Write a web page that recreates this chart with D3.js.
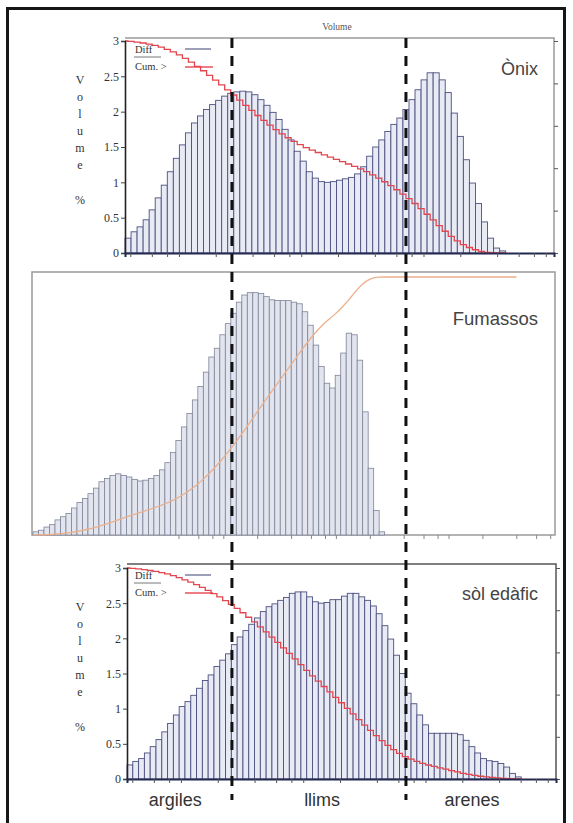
<!DOCTYPE html>
<html>
<head>
<meta charset="utf-8">
<script src="https://cdn.jsdelivr.net/npm/d3@7"></script>
<style>
  body { margin: 0; background: #fff; }
  svg { display: block; }
</style>
</head>
<body>
<svg id="fig" width="573" height="823"></svg>
<script>
// --- data (volume %, one value per size class) ---
const onixDiff = [
  0.21, 0.30, 0.37, 0.47, 0.61, 0.78, 0.96, 1.15, 1.34, 1.53,
  1.70, 1.84, 1.94, 2.03, 2.10, 2.16, 2.22, 2.26, 2.28, 2.29,
  2.28, 2.24, 2.17, 2.09, 1.99, 1.89, 1.75, 1.60, 1.44, 1.30,
  1.15, 1.06, 1.01, 1.00, 1.01, 1.03, 1.05, 1.07, 1.12, 1.22,
  1.37, 1.50, 1.60, 1.72, 1.82, 1.91, 2.03, 2.17, 2.31, 2.45,
  2.55, 2.55, 2.45, 2.27, 1.98, 1.65, 1.32, 0.99, 0.70, 0.44,
  0.21, 0.07, 0.03
];
const fumassosDiff = [
  0.04, 0.06, 0.10, 0.13, 0.19, 0.23, 0.27, 0.34, 0.41, 0.46,
  0.52, 0.59, 0.67, 0.71, 0.75, 0.77, 0.75, 0.73, 0.70, 0.68,
  0.69, 0.71, 0.75, 0.82, 0.91, 1.04, 1.19, 1.36, 1.53, 1.70,
  1.87, 2.05, 2.24, 2.35, 2.52, 2.66, 2.79, 2.93, 3.02, 3.05,
  3.05, 3.04, 3.00, 2.96, 2.95, 2.95, 2.95, 2.93, 2.91, 2.81,
  2.64, 2.39, 2.12, 1.91, 1.85, 2.01, 2.29, 2.54, 2.52, 2.20,
  1.55, 0.84, 0.31, 0.04, 0, 0, 0, 0, 0, 0,
  0, 0, 0, 0, 0, 0, 0, 0, 0, 0,
  0, 0, 0, 0, 0, 0, 0, 0
];
const solDiff = [
  0.20, 0.25, 0.29, 0.37, 0.46, 0.56, 0.67, 0.79, 0.91, 1.03,
  1.10, 1.19, 1.29, 1.40, 1.48, 1.60, 1.69, 1.78, 1.91, 2.02,
  2.11, 2.20, 2.29, 2.38, 2.45, 2.49, 2.54, 2.58, 2.64, 2.66,
  2.66, 2.59, 2.52, 2.50, 2.51, 2.55, 2.55, 2.60, 2.64, 2.64,
  2.59, 2.54, 2.46, 2.35, 2.18, 1.99, 1.76, 1.50, 1.22, 1.07,
  0.91, 0.77, 0.65, 0.65, 0.65, 0.65, 0.65, 0.63, 0.55, 0.46,
  0.37, 0.29, 0.26, 0.25, 0.22, 0.17, 0.08, 0.03
];

const volumeTicks = [0, 0.5, 1, 1.5, 2, 2.5, 3];
const cumTicks = [0, 20, 40, 60, 80, 100];
const sizeTicks = [0.4, 0.6, 0.8, 1, 2, 4, 6, 8, 10, 20, 40, 60, 80, 100, 200, 400, 600, 800, 1000];
const fractionLimits = [2.7, 71];           // µm, dashed boundaries
const fractionNames = ["argiles", "llims", "arenes"];
const fractionCentres = [0.93, 14.7, 246];   // µm, where the names sit
const yLetters = ["V", "o", "l", "u", "m", "e"];
const legendLabels = ["Diff", "Cum. >"];

const serif = "'Liberation Serif', 'DejaVu Serif', serif";
const sans = "'Liberation Sans', Arial, sans-serif";

const svg = d3.select("#fig");

svg.append("rect")
  .attr("x", 7.5).attr("y", 8.5)
  .attr("width", 557).attr("height", 840)
  .attr("fill", "none")
  .attr("stroke", "#161616")
  .attr("stroke-width", 3);

// size axis shared by the two instrument panels (log µm)
const sizeX = d3.scaleLog().domain([0.362, 1168]).range([125, 555]);

function cumulative(data, greater) {
  const total = d3.sum(data);
  const cs = Array.from(d3.cumsum(data));
  const pts = [[0, greater ? 100 : 0]];
  cs.forEach((c, i) => pts.push([i + 1, greater ? 100 * (1 - c / total) : 100 * c / total]));
  return pts;
}

function volumePanel(cfg) {
  const g = svg.append("g");
  const x = d3.scaleLinear().domain([0, cfg.nBins]).range([cfg.left, cfg.right]);
  const y = d3.scaleLinear().domain([0, 3]).range([cfg.bottom, cfg.y3]);
  const yc = d3.scaleLinear().domain([0, 100]).range([cfg.bottom, cfg.y3]);
  const sx = sizeX.copy().range([cfg.left, cfg.right]);

  // frame top / right
  g.append("path")
    .attr("d", `M${cfg.left},${cfg.top}H${cfg.right}V${cfg.bottom}`)
    .attr("fill", "none").attr("stroke", cfg.frame).attr("stroke-width", 1.5);

  g.append("g").selectAll("rect")
    .data(cfg.data)
    .join("rect")
    .attr("x", (d, i) => x(i))
    .attr("width", x(1) - x(0))
    .attr("y", d => y(d))
    .attr("height", d => y(0) - y(d))
    .attr("fill", "#e8eaf4")
    .attr("stroke", "#4b5080")
    .attr("stroke-width", 0.9);

  const line = d3.line()
    .x(d => x(d[0])).y(d => yc(d[1]))
    .curve(d3.curveStep);
  g.append("path")
    .attr("d", line(cumulative(cfg.data, true)))
    .attr("fill", "none").attr("stroke", "#e4464f").attr("stroke-width", 1.3);

  // axes
  const yAxis = g.append("g")
    .attr("transform", `translate(${cfg.left},0)`)
    .call(d3.axisLeft(y).tickValues(volumeTicks).tickSize(4).tickPadding(2).tickFormat(d => String(d)));
  yAxis.select(".domain").attr("stroke", "#222").attr("stroke-width", 1.6);
  yAxis.selectAll("text").attr("font-family", serif).attr("font-size", 12).attr("fill", "#333");
  yAxis.selectAll(".tick line").attr("stroke", "#444");

  const rAxis = g.append("g")
    .attr("transform", `translate(${cfg.right},0)`)
    .call(d3.axisRight(yc).tickValues(cumTicks).tickSize(4).tickFormat(""));
  rAxis.select(".domain").remove();
  rAxis.selectAll(".tick line").attr("stroke", "#555");

  const xAxis = g.append("g")
    .attr("transform", `translate(0,${cfg.bottom})`)
    .call(d3.axisBottom(sx).tickValues(sizeTicks).tickSize(4).tickFormat(""));
  xAxis.select(".domain").attr("stroke", "#23284f").attr("stroke-width", 2);
  xAxis.selectAll(".tick line").attr("stroke", "#555");

  // stacked y label
  const lab = g.append("g").attr("font-family", serif).attr("font-size", 12)
    .attr("fill", "#333").attr("text-anchor", "middle");
  lab.selectAll("text.l")
    .data(yLetters)
    .join("text")
    .attr("x", 80)
    .attr("y", (d, i) => cfg.y3 + 43 + i * 17)
    .text(d => d);
  lab.append("text").attr("x", 80).attr("y", cfg.y3 + 163).text("%");

  // legend
  const leg = g.append("g").attr("font-family", serif).attr("font-size", 10.5).attr("fill", "#333");
  leg.append("text").attr("x", 135).attr("y", cfg.top + 15).text(legendLabels[0]);
  leg.append("line").attr("x1", 134).attr("x2", 161)
    .attr("y1", cfg.top + 19).attr("y2", cfg.top + 19).attr("stroke", "#555").attr("stroke-width", 0.8);
  leg.append("text").attr("x", 135).attr("y", cfg.top + 32).text(legendLabels[1]);
  leg.append("line").attr("x1", 185).attr("x2", 211)
    .attr("y1", cfg.top + 11).attr("y2", cfg.top + 11).attr("stroke", "#3b4070").attr("stroke-width", 1);
  leg.append("line").attr("x1", 185).attr("x2", 213)
    .attr("y1", cfg.top + 29).attr("y2", cfg.top + 29).attr("stroke", "#e4464f").attr("stroke-width", 1.4);

  g.append("text")
    .attr("x", 538).attr("y", cfg.nameY)
    .attr("text-anchor", "end")
    .attr("font-family", sans).attr("font-size", 18).attr("fill", "#444")
    .text(cfg.name);
}

// --- middle panel (Fumassos) ---
function fumassosPanel() {
  const left = 32, right = 555, top = 272, bottom = 535;
  const g = svg.append("g");
  const x = d3.scaleLinear().domain([0, 95]).range([left + 1, right]);
  const y = d3.scaleLinear().domain([0, 3.31]).range([bottom, top]);
  const yc = d3.scaleLinear().domain([0, 100]).range([bottom, top + 5]);
  const sx = d3.scaleLog().domain([0.02, 2000]).range([left, right + 40]);

  g.append("rect")
    .attr("x", left).attr("y", top).attr("width", right - left).attr("height", bottom - top)
    .attr("fill", "#fff").attr("stroke", "#9a9a9a").attr("stroke-width", 1.5);

  g.append("g").selectAll("rect")
    .data(fumassosDiff.filter(d => d > 0))
    .join("rect")
    .attr("x", (d, i) => x(i))
    .attr("width", x(1) - x(0))
    .attr("y", d => y(d))
    .attr("height", d => y(0) - y(d))
    .attr("fill", "#e2e5ee")
    .attr("stroke", "#7d8399")
    .attr("stroke-width", 0.8);

  g.append("path")
    .attr("d", d3.line().x(d => x(d[0])).y(d => yc(d[1])).curve(d3.curveMonotoneX)(cumulative(fumassosDiff, false)))
    .attr("fill", "none").attr("stroke", "#ebb08c").attr("stroke-width", 1.3);

  const xAxis = g.append("g")
    .attr("transform", `translate(0,${bottom})`)
    .call(d3.axisBottom(sx).tickValues(sizeTicks.filter(d => sx(d) < right)).tickSize(4).tickFormat(""));
  xAxis.select(".domain").remove();
  xAxis.selectAll(".tick line").attr("stroke", "#888");

  g.append("text")
    .attr("x", 538).attr("y", 325)
    .attr("text-anchor", "end")
    .attr("font-family", sans).attr("font-size", 18.5).attr("fill", "#444")
    .text("Fumassos");
}

volumePanel({ data: onixDiff, name: "Ònix", nameY: 75, left: 125, right: 554, top: 38, bottom: 253, y3: 41, nBins: 71, frame: "#9a9a9a" });
fumassosPanel();
volumePanel({ data: solDiff, name: "sòl edàfic", nameY: 600, left: 127, right: 556, top: 564, bottom: 779, y3: 568, nBins: 74, frame: "#555" });

// title of the upper chart
svg.append("text")
  .attr("x", 337).attr("y", 30)
  .attr("text-anchor", "middle")
  .attr("font-family", serif).attr("font-size", 9.5).attr("fill", "#555")
  .text("Volume");

// fraction boundaries drawn across the three panels
svg.append("g").selectAll("line")
  .data(fractionLimits)
  .join("line")
  .attr("x1", d => sizeX(d)).attr("x2", d => sizeX(d))
  .attr("y1", 38).attr("y2", 800)
  .attr("stroke", "#111").attr("stroke-width", 3)
  .attr("stroke-dasharray", "10,8");

svg.append("g").selectAll("text")
  .data(fractionNames)
  .join("text")
  .attr("x", (d, i) => sizeX(fractionCentres[i]))
  .attr("y", 806)
  .attr("text-anchor", "middle")
  .attr("font-family", sans).attr("font-size", 18).attr("fill", "#333")
  .text(d => d);
</script>
</body>
</html>
